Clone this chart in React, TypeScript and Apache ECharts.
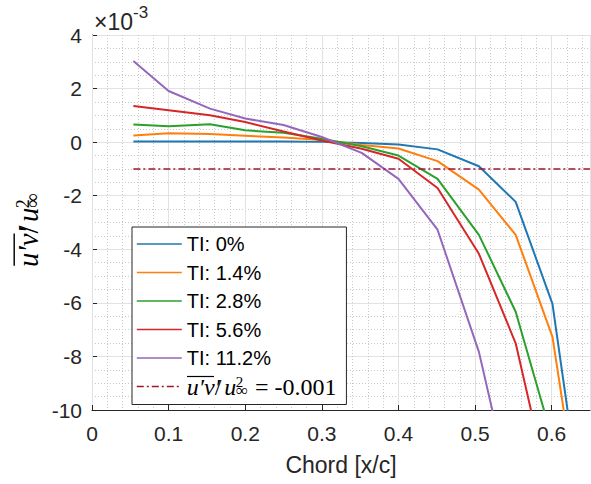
import React, { useEffect, useRef } from "react";
import * as echarts from "echarts";

// Chord positions x/c
const CHORD = [0.054, 0.1, 0.154, 0.2, 0.25, 0.3, 0.352, 0.4, 0.451, 0.505, 0.553, 0.601, 0.65];
// u'v'/u_inf^2 values, in units of 1e-3
const TI_0 = [0.02, 0.02, 0.02, 0.02, 0.02, 0.01, -0.03, -0.09, -0.27, -0.9, -2.23, -6.04, -15.9];
const TI_1_4 = [0.25, 0.33, 0.3, 0.24, 0.17, 0.08, -0.11, -0.24, -0.71, -1.77, -3.46, -7.27, -16.4];
const TI_2_8 = [0.66, 0.59, 0.67, 0.44, 0.35, 0.13, -0.15, -0.5, -1.37, -3.46, -6.33, -11.1];
const TI_5_6 = [1.35, 1.19, 1.0, 0.75, 0.4, 0.06, -0.25, -0.62, -1.71, -4.17, -7.51, -13.5];
const TI_11_2 = [3.03, 1.91, 1.25, 0.88, 0.64, 0.19, -0.4, -1.37, -3.27, -7.83, -13.8];

const SERIES_NAMES = ["TI: 0%", "TI: 1.4%", "TI: 2.8%", "TI: 5.6%", "TI: 11.2%"];
const SERIES_VALUES = [TI_0, TI_1_4, TI_2_8, TI_5_6, TI_11_2];
const COLORS = ["#1f77b4", "#ff7f0e", "#2ca02c", "#d62728", "#9467bd"];

// reference level -0.001 (= -1 in units of 1e-3) between first and last chord station
const REF_LEVEL = -1;
const REF_X = [0.054, 0.65];
const REF_NAME = "ref";
const REF_LABEL = "{ov|u′v′}{sl|/}{u|u}{sup|2}{sub|∞}{eq| = -0.001}";
const Y_LABEL = "{ov|u′v′}{sl|/}{u|u}{sup|2}{sub|∞}";

const X_AXIS_NAME = "Chord [x/c]";
const EXP_BASE = "×10";
const EXP_POWER = "-3";

const SANS = "Liberation Sans, Arial, Helvetica, sans-serif";
const SERIF = "Liberation Serif, DejaVu Serif, serif";

const richFor = (s: number) => ({
  ov: { fontFamily: SERIF, fontStyle: "italic", fontSize: 24 * s, lineHeight: 24 * s, width: 28 * s, color: "#000" },
  sl: { fontFamily: SERIF, fontSize: 24 * s, lineHeight: 24 * s, width: 9.5 * s, color: "#000" },
  u: { fontFamily: SERIF, fontStyle: "italic", fontSize: 24 * s, lineHeight: 24 * s, width: 11.5 * s, color: "#000" },
  sup: { fontFamily: SERIF, fontSize: 15 * s, lineHeight: 14 * s, width: 0.1, verticalAlign: "top", color: "#000" },
  sub: { fontFamily: SERIF, fontSize: 17 * s, lineHeight: 6 * s, width: 13 * s, verticalAlign: "bottom", color: "#000" },
  eq: { fontFamily: SERIF, fontSize: 24 * s, lineHeight: 24 * s, color: "#000" },
});

export default function App() {
  const ref = useRef<HTMLDivElement>(null);
  useEffect(() => {
    if (!ref.current) return;
    const chart = echarts.init(ref.current, undefined, { renderer: "svg" });
    const dataSeries = SERIES_NAMES.map((name, i) => ({
      name,
      type: "line",
      data: SERIES_VALUES[i].map((v, j) => [CHORD[j], v]),
      symbol: "none",
      showSymbol: false,
      clip: true,
      color: COLORS[i],
      lineStyle: { width: 2, color: COLORS[i] },
      z: 3 + i,
    }));
    const ys = 1.2;
    chart.setOption({
      animation: false,
      grid: { left: 92, right: 1, top: 35, bottom: 74, containLabel: false },
      xAxis: [
        {
          type: "value",
          min: 0,
          max: 0.65,
          interval: 0.1,
          name: X_AXIS_NAME,
          nameLocation: "middle",
          nameGap: 43,
          nameTextStyle: { fontSize: 23, color: "#262626", fontFamily: SANS },
          axisLine: { show: true, onZero: false, lineStyle: { color: "#262626", width: 1 } },
          axisTick: { show: true, inside: true, length: 5, lineStyle: { color: "#262626" } },
          axisLabel: { fontSize: 21, color: "#262626", fontFamily: SANS, margin: 13, showMaxLabel: false },
          splitLine: { show: true, lineStyle: { color: "#e2e2e2", width: 1 } },
          z: 1,
        },
        {
          type: "value",
          min: 0,
          max: 0.65,
          interval: 0.02,
          gridIndex: 0,
          position: "bottom",
          axisLine: { show: false },
          axisTick: { show: false },
          axisLabel: { show: false },
          splitLine: {
            show: true,
            lineStyle: { color: ["rgba(0,0,0,0)", "#c8c8c8", "#c8c8c8", "#c8c8c8", "#c8c8c8"], type: [1, 2], width: 1 },
          },
          z: 0,
        },
      ],
      yAxis: {
        type: "value",
        min: -10,
        max: 4,
        interval: 2,
        axisLine: { show: true, onZero: false, lineStyle: { color: "#262626", width: 1 } },
        axisTick: { show: true, inside: true, length: 5, lineStyle: { color: "#262626" } },
        axisLabel: { fontSize: 21, color: "#262626", fontFamily: SANS, margin: 10 },
        splitLine: { show: true, lineStyle: { color: "#e2e2e2", width: 1 } },
        minorTick: { show: false, splitNumber: 4 },
        minorSplitLine: { show: true, lineStyle: { color: "#c8c8c8", type: [1, 2], width: 1 } },
      },
      legend: {
        orient: "vertical",
        left: 132,
        top: 227,
        padding: [5, 10, 6, 4],
        itemWidth: 45,
        itemHeight: 24,
        itemGap: 4.5,
        selectedMode: false,
        borderColor: "#262626",
        borderWidth: 1,
        backgroundColor: "#ffffff",
        itemStyle: { color: "rgba(0,0,0,0)", borderColor: "rgba(0,0,0,0)", borderWidth: 0, opacity: 0 },
        lineStyle: { width: 1.6 },
        data: [...SERIES_NAMES, REF_NAME],
        textStyle: { fontSize: 20, lineHeight: 24, color: "#000", fontFamily: SANS, rich: richFor(1) },
        formatter: (name: string) => (name === REF_NAME ? REF_LABEL : name),
      },
      series: [
        ...dataSeries,
        {
          name: REF_NAME,
          type: "line",
          data: REF_X.map((x) => [x, REF_LEVEL]),
          symbol: "none",
          showSymbol: false,
          color: "#A2142F",
          lineStyle: { width: 1.6, color: "#A2142F", type: [7, 3, 2, 3] },
          z: 9,
        },
      ],
      graphic: [
        {
          type: "text",
          x: 94,
          y: 10,
          style: { text: EXP_BASE, font: `23px ${SANS}`, fontSize: 23, fontFamily: SANS, fill: "#262626" },
        },
        {
          type: "text",
          x: 133,
          y: 4,
          style: { text: EXP_POWER, font: `17px ${SANS}`, fontSize: 17, fontFamily: SANS, fill: "#262626" },
        },
        {
          type: "group",
          x: 28,
          y: 267,
          rotation: Math.PI / 2,
          children: [
            {
              type: "text",
              x: 0,
              y: 0,
              style: { text: Y_LABEL, rich: richFor(ys), verticalAlign: "middle", align: "left" },
            },
            {
              type: "line",
              shape: { x1: 1 * ys, y1: -11.5 * ys, x2: 28 * ys, y2: -11.5 * ys },
              style: { stroke: "#000", lineWidth: 1.2 * ys },
            },
          ],
        },
        {
          type: "line",
          z: 100,
          shape: { x1: 187, y1: 376.5, x2: 214, y2: 376.5 },
          style: { stroke: "#000", lineWidth: 1.2 },
        },
      ],
    });
    return () => chart.dispose();
  }, []);
  return <div ref={ref} style={{ width: 591, height: 484, position: "absolute", left: 0, top: 0 }} />;
}
